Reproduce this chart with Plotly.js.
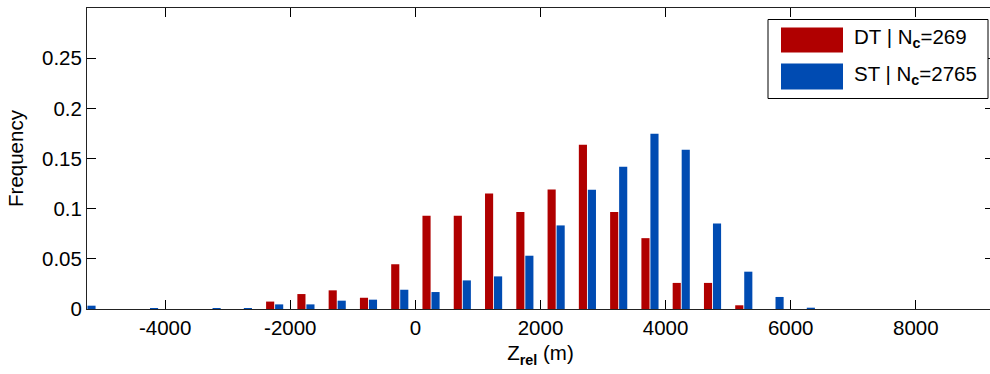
<!DOCTYPE html>
<html>
<head>
<meta charset="utf-8">
<script src="https://cdn.plot.ly/plotly-3.0.1.min.js"></script>
<style>
html, body { margin:0; padding:0; overflow:hidden; background:#fff; }
#chart { width:1000px; height:374px; }
</style>
</head>
<body>
<div id="chart"></div>
<script>
// Bin centres (Z_rel, m)
var binCenters = [-5250,-4750,-4250,-3750,-3250,-2750,-2250,-1750,-1250,-750,-250,250,750,1250,1750,2250,2750,3250,3750,4250,4750,5250,5750,6250];
// DT frequencies (N_c = 269)
var dtFreq = [0,0,0,0,0,0,0.0074,0.0149,0.0186,0.0112,0.0446,0.0929,0.0929,0.1152,0.0967,0.1190,0.1636,0.0967,0.0706,0.0260,0.0260,0.0037,0,0];
// ST frequencies (N_c = 2765)
var stFreq = [0.0033,0,0.0010,0,0.0010,0.0010,0.0046,0.0046,0.0083,0.0093,0.0192,0.0169,0.0285,0.0325,0.0531,0.0833,0.1188,0.1417,0.1746,0.1587,0.0853,0.0372,0.0120,0.0013];
var seriesNames = ["DT", "ST"];
var seriesCounts = [269, 2765];
var xTickVals = [-4000,-2000,0,2000,4000,6000,8000];
var xTickText = ["-4000","-2000","0","2000","4000","6000","8000"];
var yTickVals = [0,0.05,0.1,0.15,0.2,0.25];
var yTickText = ["0","0.05","0.1","0.15","0.2","0.25"];

var red = "#B00000", blue = "#004BB2";
var fnt = {family: "Liberation Sans, Arial, sans-serif", size: 20.5, color: "#000"};

var traces = [
  {type:"bar", x:binCenters, y:dtFreq, name:seriesNames[0], width:130, offset:-137,
   marker:{color:red, line:{width:0}}, hoverinfo:"x+y"},
  {type:"bar", x:binCenters, y:stFreq, name:seriesNames[1], width:130, offset:7,
   marker:{color:blue, line:{width:0}}, hoverinfo:"x+y"}
];

// manual MATLAB-style legend (paper coordinates)
function px2x(p){ return (p-87)/907; }
function px2y(p){ return (309-p)/301; }
var shapes = [
  {type:"rect", xref:"paper", yref:"paper", x0:px2x(768), x1:px2x(988), y0:px2y(98.5), y1:px2y(19.5),
   line:{color:"#000", width:1}, fillcolor:"#fff", layer:"above"},
  {type:"rect", xref:"paper", yref:"paper", x0:px2x(781), x1:px2x(843), y0:px2y(52.5), y1:px2y(27.5),
   line:{width:0}, fillcolor:red, layer:"above"},
  {type:"rect", xref:"paper", yref:"paper", x0:px2x(781), x1:px2x(843), y0:px2y(89.5), y1:px2y(63.5),
   line:{width:0}, fillcolor:blue, layer:"above"}
];
var rowsY = [38, 75];
var annotations = seriesNames.map(function(n,i){
  return {xref:"paper", yref:"paper", x:px2x(852), y:px2y(rowsY[i]), xanchor:"left", yanchor:"middle",
    text: n + " | N<sub><b>c</b></sub>=" + seriesCounts[i], showarrow:false, font:fnt};
});

var layout = {
  width:1000, height:374,
  margin:{l:87, r:6, t:8, b:65},
  paper_bgcolor:"#fff", plot_bgcolor:"#fff",
  barmode:"overlay",
  showlegend:false,
  font:fnt,
  xaxis:{range:[-5250,9250], tickmode:"array", tickvals:xTickVals, ticktext:xTickText,
    ticks:"inside", ticklen:9, tickwidth:1, tickcolor:"#000", showline:true, linecolor:"#222", linewidth:1,
    mirror:"ticks", showgrid:false, zeroline:false, tickfont:fnt,
    title:{text:"Z<sub><b>rel</b></sub> (m)", font:fnt, standoff:8}},
  yaxis:{range:[0,0.3], tickmode:"array", tickvals:yTickVals, ticktext:yTickText,
    ticks:"inside", ticklen:9, tickwidth:1, tickcolor:"#000", showline:true, linecolor:"#222", linewidth:1,
    mirror:"ticks", showgrid:false, zeroline:false, tickfont:fnt,
    title:{text:"Frequency", font:fnt, standoff:12}},
  shapes:shapes,
  annotations:annotations
};
Plotly.newPlot("chart", traces, layout, {staticPlot:true, displayModeBar:false});
</script>
</body>
</html>
